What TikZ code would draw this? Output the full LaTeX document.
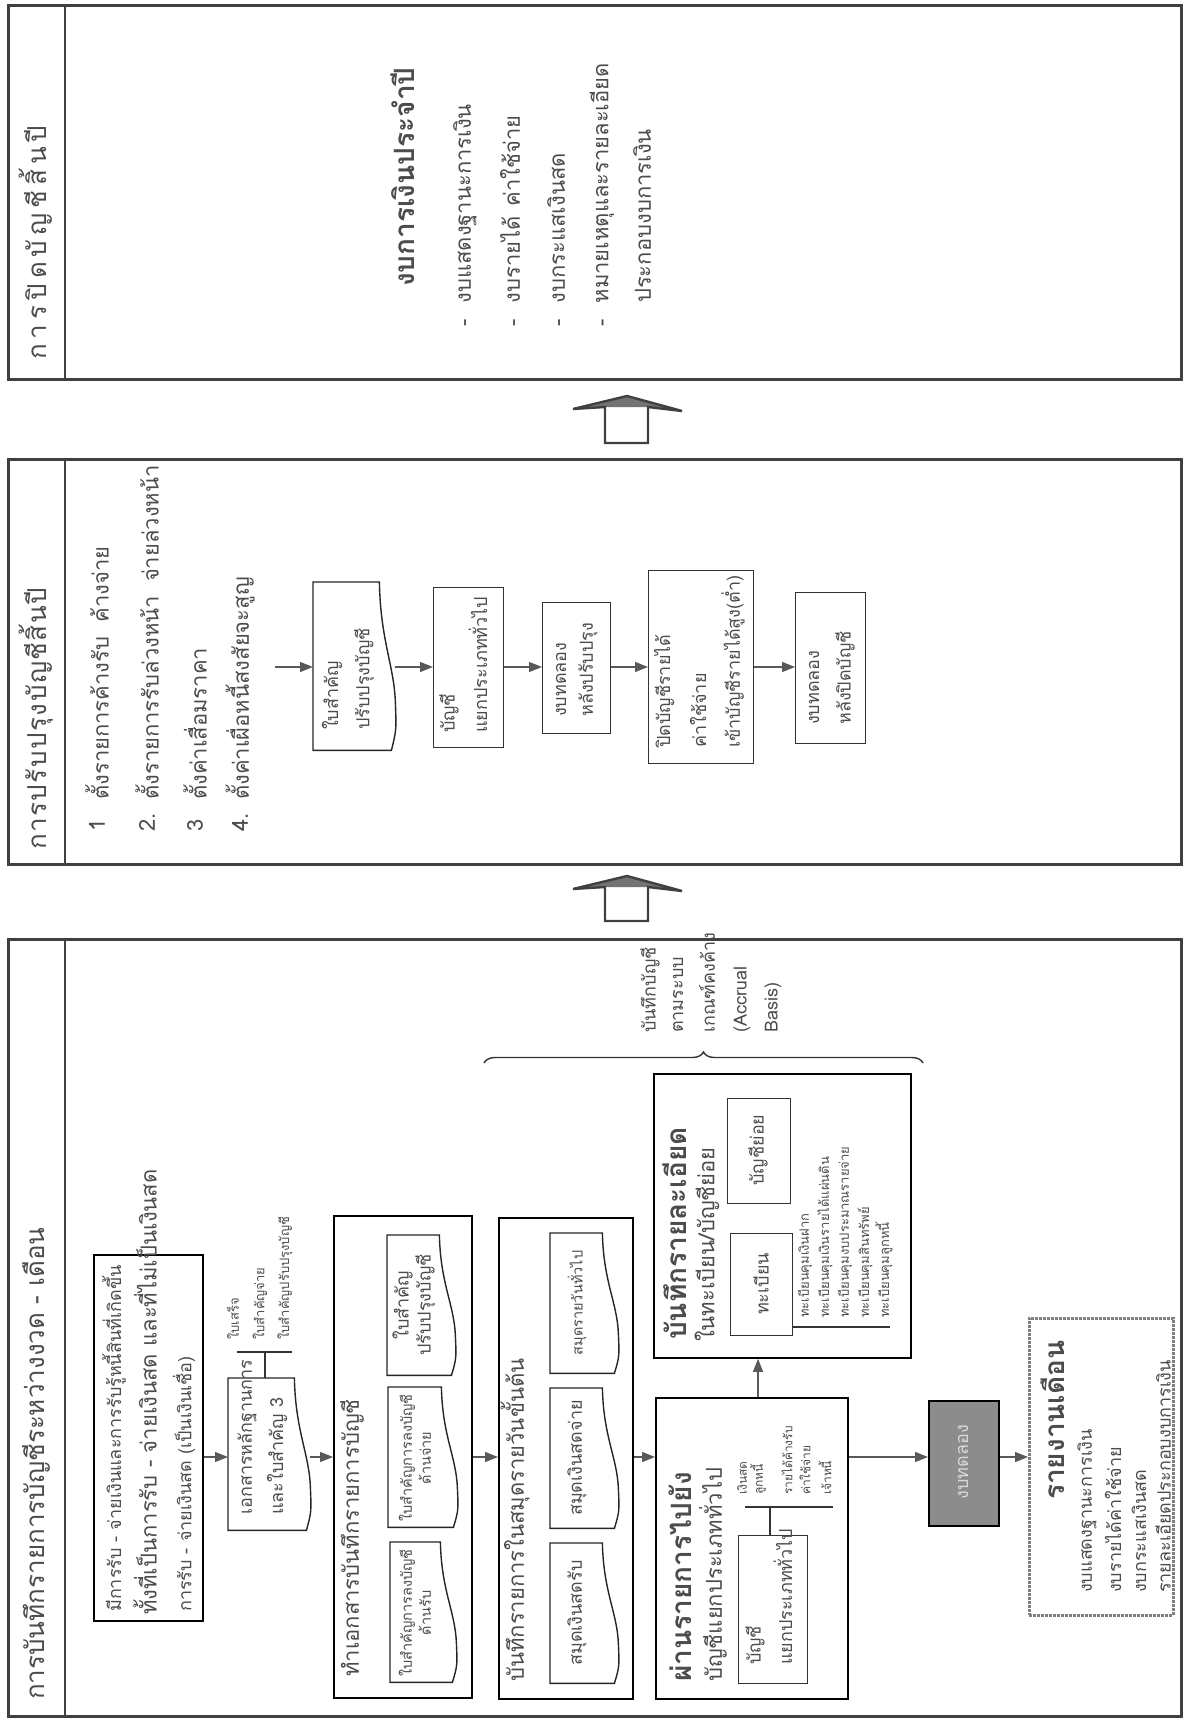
\documentclass[tikz,border=0pt]{standalone}
\usepackage{fontspec}
\setmainfont[Script=Thai]{Loma}
\usetikzlibrary{arrows.meta,calc,decorations.pathreplacing}
\definecolor{ink}{gray}{0.25}
\definecolor{txt}{gray}{0.3}
\tikzset{
  x=1pt,y=1pt,
  frame/.style={draw=ink,line width=2.6pt,inner sep=0pt},
  bx/.style={draw=black,line width=1.8pt,inner sep=0pt},
  ibx/.style={draw=black!80,line width=1.3pt,inner sep=0pt},
  nobx/.style={draw=none,inner sep=0pt},
  docline/.style={draw=black!85,line width=1.4pt},
  tv/.style={rotate=90,inner sep=0pt,text=txt},
  fH/.style={font=\fontsize{26}{30}\selectfont},
  fT/.style={font=\bfseries\fontsize{28}{32}\selectfont},
  fM/.style={font=\fontsize{22}{26}\selectfont},
  fS/.style={font=\fontsize{18}{22}\selectfont},
  fD/.style={font=\fontsize{14.5}{19}\selectfont},
  fX/.style={font=\fontsize{13}{16}\selectfont},
  fY/.style={font=\fontsize{12}{15}\selectfont},
  arr/.style={draw=black!65,line width=1.3pt,-{Triangle[length=13pt,width=10pt]}},
  thin/.style={draw=black!80,line width=1.4pt},
  hollow/.style={draw=ink,line width=2.4pt,line join=miter},
  gbox/.style={draw=black,line width=2pt,fill=black!45,inner sep=0pt},
  hbx/.style={draw=black!50,line width=2.6pt,dash pattern=on 3pt off 1pt,inner sep=0pt},
}
\newcommand\rbox[6]{\node[#1,anchor=north west,minimum width={(#5-#3)*1pt},minimum height={(#6-#4)*1pt}] (#2) at (#3,-#4) {};}
\newcommand\docout[2]{\draw[#2] (#1.south west) -- (#1.north west) -- ([xshift=-16pt]#1.north east) .. controls ([xshift=-15pt]$(#1.north east)!0.35!(#1.south east)$) and ([xshift=-1pt]$(#1.north east)!0.5!(#1.south east)$) .. ($(#1.north east)!0.72!(#1.south east)$) .. controls ([xshift=1pt]$(#1.north east)!0.88!(#1.south east)$) .. ([xshift=-4pt]#1.south east) -- cycle;}
\newcommand\rdoc[6]{\rbox{nobx}{#2}{#3}{#4}{#5}{#6}\docout{#2}{#1}}
\newcommand\tl[5]{\node[tv,#1,anchor=west] (#2) at (#3,-#4) {#5};}
\newcommand\tc[5]{\node[tv,#1,anchor=center,align=center] (#2) at (#3,-#4) {#5};}
\newcommand\KK{\kern5pt}
\newcommand\Kk{\kern1.5pt}
\begin{document}
\begin{tikzpicture}
\useasboundingbox (0,0) rectangle (1187,-1723);
\fill[white] (0,0) rectangle (1187,-1723);
% ---------------- panel 3 ----------------
\rbox{frame}{p3}{7}{4}{1180}{378}
\draw[frame] (p3.north -| 65,0) -- (p3.south -| 65,0);
\tl{fH}{h3}{36}{360}{ก\KK า\KK ร\KK ปิ\KK ด\KK บั\KK ญ\KK ชี\KK สิ้\KK น\KK ปี}
\tl{fT}{t3}{403}{287}{งบการเงินประจำปี}
\tl{fM}{b31}{465}{327}{-\hspace{16pt}งบแสดงฐานะการเงิน}
\tl{fM}{b32}{510}{327}{-\hspace{16pt}งบรายได้\hspace{10pt}ค่าใช้จ่าย}
\tl{fM}{b33}{556}{327}{-\hspace{16pt}งบกระแสเงินสด}
\tl{fM}{b34}{602}{327}{-\hspace{16pt}หมายเหตุและรายละเอียด}
\tl{fM}{b35}{642}{303}{ประกอบงบการเงิน}
% hollow arrow 2 -> 3
\fill[black!55] (573,-409) -- (627,-396) -- (682,-411) -- (648,-407) -- (605,-407) -- cycle;
\draw[hollow] (605,-443) -- (605,-407) -- (573,-409) -- (627,-396) -- (682,-411) -- (648,-407) -- (648,-443) -- cycle;
% ---------------- panel 2 ----------------
\rbox{frame}{p2}{7}{458}{1180}{863}
\draw[frame] (p2.north -| 65,0) -- (p2.south -| 65,0);
\tl{fH}{h2}{36}{850}{ก\Kk า\Kk ร\Kk ป\Kk รั\Kk บ\Kk ป\Kk รุ\Kk ง\Kk บั\Kk ญ\Kk ชี\Kk สิ้\Kk น\Kk ปี}
\tl{fM}{n1}{97}{832}{1}
\tl{fM}{n2}{147}{832}{2.}
\tl{fM}{n3}{195}{832}{3}
\tl{fM}{n4}{240}{832}{4.}
\tl{fM}{l1}{97}{800}{ตั้งรายการค้างรับ\hspace{14pt}ค้างจ่าย}
\tl{fM}{l2}{147}{800}{ตั้งรายการรับล่วงหน้า\hspace{14pt}จ่ายล่วงหน้า}
\tl{fM}{l3}{195}{800}{ตั้งค่าเสื่อมราคา}
\tl{fM}{l4}{240}{800}{ตั้งค่าเผื่อหนี้สงสัยจะสูญ}
\coordinate (st2) at (275,-667);
\rdoc{docline}{q1}{313}{582}{395}{750}
\tl{fS}{q1a}{332}{730}{ใบสำคัญ}
\tl{fS}{q1b}{364}{730}{ปรับปรุงบัญชี}
\rbox{ibx}{q2}{433}{587}{503}{747}
\tl{fS}{q2a}{449}{733}{บัญชี}
\tl{fS}{q2b}{478}{733}{แยกประเภททั่วไป}
\rbox{ibx}{q3}{542}{602}{610}{733}
\tl{fS}{q3a}{561}{717}{งบทดลอง}
\tl{fS}{q3b}{588}{717}{หลังปรับปรุง}
\rbox{ibx}{q4}{648}{570}{753}{763}
\tl{fS}{q4a}{664}{748}{ปิดบัญชีรายได้}
\tl{fS}{q4b}{698}{748}{ค่าใช้จ่าย}
\tl{fS}{q4c}{733}{748}{เข้าบัญชีรายได้สูง(ต่ำ)}
\rbox{ibx}{q5}{795}{592}{865}{743}
\tl{fS}{q5a}{814}{725}{งบทดลอง}
\tl{fS}{q5b}{845}{725}{หลังปิดบัญชี}
\draw[arr] (st2) -- (q1.west |- st2);
\draw[arr] (q1.east |- st2) -- (q2.west |- st2);
\draw[arr] (q2.east |- st2) -- (q3.west |- st2);
\draw[arr] (q3.east |- st2) -- (q4.west |- st2);
\draw[arr] (q4.east |- st2) -- (q5.west |- st2);
% hollow arrow 1 -> 2
\fill[black!55] (573,-889) -- (627,-876) -- (682,-891) -- (648,-887) -- (605,-887) -- cycle;
\draw[hollow] (605,-921) -- (605,-887) -- (573,-889) -- (627,-876) -- (682,-891) -- (648,-887) -- (648,-921) -- cycle;
% ---------------- panel 1 ----------------
\rbox{frame}{p1}{7}{938}{1180}{1715}
\draw[frame] (p1.north -| 65,0) -- (p1.south -| 65,0);
\tl{fH}{h1}{36}{1700}{การบันทึกรายการบัญชีระหว่างงวด - เดือน}
% box A
\rbox{bx}{bA}{93}{1254}{202}{1620}
\tl{fS}{tA1}{114}{1612}{มีการรับ - จ่ายเงินและการรับรู้หนี้สินที่เกิดขึ้น}
\tl{fM}{tA2}{145}{1615}{ทั้งที่เป็นการรับ - จ่ายเงินสด และที่ไม่เป็นเงินสด}
\tl{fS}{tA3}{184}{1612}{การรับ - จ่ายเงินสด (เป็นเงินเชื่อ)}
% doc B
\rdoc{docline}{dB}{228}{1378}{310}{1530}
\tl{fS}{tB1}{247}{1515}{เอกสารหลักฐานการ}
\tl{fS}{tB2}{277}{1515}{และใบสำคัญ 3}
\coordinate (tB) at (265,-1352);
\draw[thin] (dB.north -| tB) -- (tB);
\draw[thin] (237,-1352) -- (292,-1352);
\tl{fX}{tB3}{233}{1340}{ใบเสร็จ}
\tl{fX}{tB4}{260}{1340}{ใบสำคัญจ่าย}
\tl{fX}{tB5}{285}{1340}{ใบสำคัญปรับปรุงบัญชี}
% box C
\rbox{bx}{bC}{333}{1215}{471}{1697}
\tl{fM}{tC}{352}{1677}{ทำเอกสารบันทึกรายการบัญชี}
\rdoc{docline}{dC1}{390}{1542}{456}{1682}
\tc{fD}{tC1}{415}{1613}{ใบสำคัญการลงบัญชี\\ด้านรับ}
\rdoc{docline}{dC2}{388}{1387}{457}{1527}
\tc{fD}{tC2}{415}{1458}{ใบสำคัญการลงบัญชี\\ด้านจ่าย}
\rdoc{docline}{dC3}{387}{1235}{455}{1375}
\tc{fS}{tC3}{414}{1305}{ใบสำคัญ\\ปรับปรุงบัญชี}
% box D
\rbox{bx}{bD}{498}{1217}{632}{1698}
\tl{fM}{tD}{515}{1682}{บันทึกรายการในสมุดรายวันขั้นต้น}
\rdoc{docline}{dD1}{550}{1543}{618}{1683}
\tc{fS}{tD1}{577}{1613}{สมุดเงินสดรับ}
\rdoc{docline}{dD2}{550}{1388}{618}{1528}
\tc{fS}{tD2}{577}{1458}{สมุดเงินสดจ่าย}
\rdoc{docline}{dD3}{550}{1233}{618}{1373}
\tc{fD}{tD3}{577}{1303}{สมุดรายวันทั่วไป}
% box E
\rbox{bx}{bE}{655}{1397}{847}{1698}
\tl{fT}{tE1}{680}{1682}{ผ่านรายการไปยัง}
\tl{fM}{tE2}{713}{1682}{บัญชีแยกประเภททั่วไป}
\rbox{ibx}{bE1}{738}{1535}{807}{1683}
\tl{fS}{tE3}{755}{1665}{บัญชี}
\tl{fS}{tE4}{783}{1665}{แยกประเภททั่วไป}
\coordinate (tE) at (770,-1507);
\draw[thin] (bE1.north -| tE) -- (tE);
\draw[thin] (745,-1507) -- (833,-1507);
\tl{fY}{tE5}{742}{1495}{เงินสด}
\tl{fY}{tE6}{758}{1495}{ลูกหนี้}
\tl{fY}{tE7}{787}{1495}{รายได้ค้างรับ}
\tl{fY}{tE8}{805}{1495}{ค่าใช้จ่าย}
\tl{fY}{tE9}{825}{1495}{เจ้าหนี้}
% box F
\rbox{bx}{bF}{653}{1073}{910}{1357}
\tl{fT}{tF1}{675}{1340}{บันทึกรายละเอียด}
\tl{fM}{tF2}{707}{1342}{ในทะเบียน/บัญชีย่อย}
\rbox{ibx}{bF1}{727}{1098}{790}{1203}
\tc{fS}{tF3}{758}{1150}{บัญชีย่อย}
\rbox{ibx}{bF2}{730}{1233}{792}{1335}
\tc{fS}{tF4}{761}{1284}{ทะเบียน}
\draw[thin] (bF2.east |- 0,-1327) -- (890,-1327);
\tl{fX}{tF5}{805}{1318}{ทะเบียนคุมเงินฝาก}
\tl{fX}{tF6}{825}{1318}{ทะเบียนคุมเงินรายได้แผ่นดิน}
\tl{fX}{tF7}{845}{1318}{ทะเบียนคุมงบประมาณรายจ่าย}
\tl{fX}{tF8}{865}{1318}{ทะเบียนคุมสินทรัพย์}
\tl{fX}{tF9}{884}{1318}{ทะเบียนคุมลูกหนี้}
% brace
\draw[thin,decorate,decoration={brace,amplitude=11pt}] (484,-1063) -- (923,-1063);
\tl{fS}{br1}{650}{1033}{บันทึกบัญชี}
\tl{fS}{br2}{678}{1033}{ตามระบบ}
\tl{fS}{br3}{707}{1033}{เกณฑ์คงค้าง}
\tl{fS}{br4}{742}{1033}{(Accrual}
\tl{fS}{br5}{773}{1033}{Basis)}
% G and H
\node[gbox,anchor=north west,minimum width=70pt,minimum height=125pt] (bG) at (928,-1400) {};
\tc{fS,text=black!15}{tG}{963}{1462}{งบทดลอง}
\rbox{hbx}{bH}{1028}{1317}{1172}{1614}
\tl{fT}{tH}{1053}{1500}{รายงานเดือน}
\tl{fS}{tH1}{1087}{1593}{งบแสดงฐานะการเงิน}
\tl{fS}{tH2}{1113}{1593}{งบรายได้ค่าใช้จ่าย}
\tl{fS}{tH3}{1139}{1593}{งบกระแสเงินสด}
\tl{fS}{tH4}{1163}{1593}{รายละเอียดประกอบงบการเงิน}
% flow arrows
\coordinate (st1) at (0,-1457);
\draw[arr] (bA.east |- st1) -- (dB.west |- st1);
\draw[arr] (dB.east |- st1) -- (bC.west |- st1);
\draw[arr] (bC.east |- st1) -- (bD.west |- st1);
\draw[arr] (bD.east |- st1) -- (bE.west |- st1);
\draw[arr] (bE.east |- st1) -- (bG.west |- st1);
\draw[arr] (bG.east |- st1) -- (bH.west |- st1);
\draw[arr] (bE.north -| 758,0) -- (bF.south -| 758,0);
\end{tikzpicture}
\end{document}
